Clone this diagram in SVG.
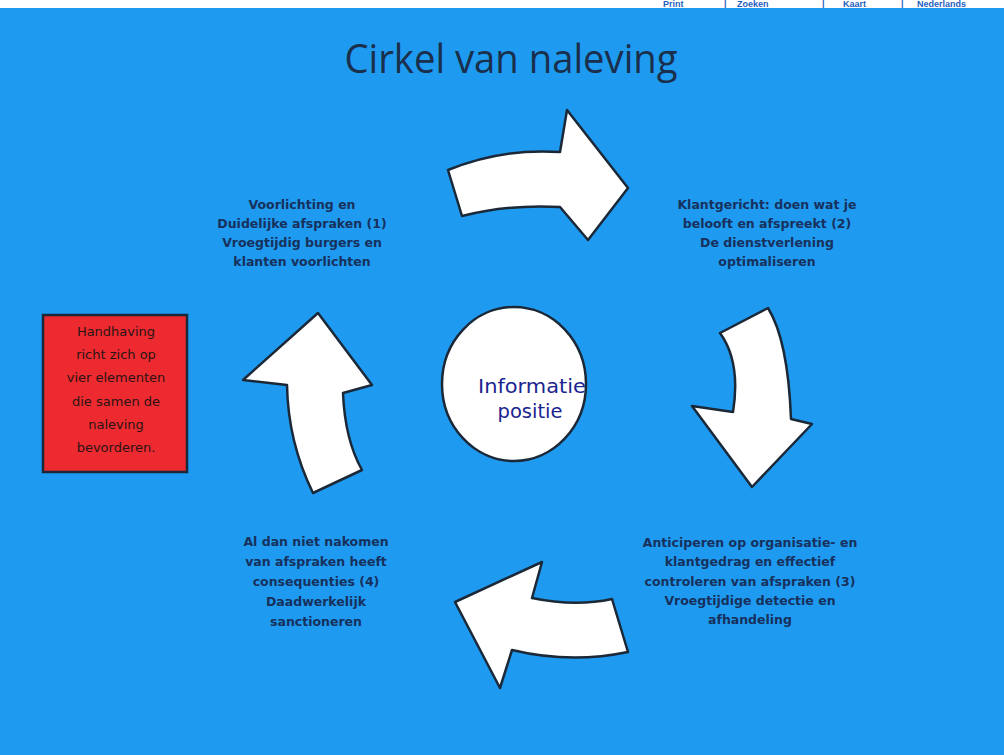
<svg xmlns="http://www.w3.org/2000/svg" width="1004" height="755" viewBox="0 0 1004 755">
<style>
.arrow{fill:#ffffff;stroke:#1b2838;stroke-width:2.5;stroke-linejoin:round}
.lbl{font-family:"DejaVu Sans",Verdana,sans-serif;font-size:12.5px;font-weight:bold;fill:#17305c;text-anchor:middle}
.red{font-family:"DejaVu Sans",Verdana,sans-serif;font-size:13px;fill:#2a1414;text-anchor:middle}
</style>
<rect x="0" y="0" width="1004" height="755" fill="#ffffff"/>
<text y="7" font-family="Liberation Sans, Arial, sans-serif" font-size="9" font-weight="bold" fill="#1f5fc0"><tspan x="663">Print</tspan><tspan x="724">|</tspan><tspan x="737">Zoeken</tspan><tspan x="822">|</tspan><tspan x="843">Kaart</tspan><tspan x="901">|</tspan><tspan x="917">Nederlands</tspan></text>
<rect x="0" y="8" width="1004" height="747" fill="#1e9bf0"/>
<text x="511" y="73" font-family="Open Sans, DejaVu Sans, sans-serif" font-size="40" fill="#1a2f4c" text-anchor="middle" textLength="333" lengthAdjust="spacingAndGlyphs">Cirkel van naleving</text>

<g id="connectors">
<path id="arrow-top" class="arrow" d="M448,170 Q502,148 560,152 L567,110 L628,188 L588,240 L560,207 Q510,204 462,216 Z"/>
<path id="arrow-right" class="arrow" d="M720,333 L768,308 Q788,340 791,419 L812,424 L752,487 L692,406 L733,412 Q741,362 720,333 Z"/>
<path id="arrow-bottom" class="arrow" d="M542,562 L532,598 Q575,607 612,599 L628,652 Q570,664 512,650 L500,688 L455,602 Z"/>
<path id="arrow-left" class="arrow" d="M318,313 L372,385 L343,393 Q345,440 362,470 L313,493 Q288,442 287,385 L243,380 Z"/>
</g>

<g id="node-center">
<ellipse cx="514" cy="384" rx="72" ry="77" fill="#ffffff" stroke="#1b2838" stroke-width="2.5"/>
<text x="532" y="393" font-family="DejaVu Sans, Verdana, sans-serif" font-size="20" fill="#1a2590" text-anchor="middle" textLength="108" lengthAdjust="spacingAndGlyphs">Informatie</text>
<text x="530" y="418" font-family="DejaVu Sans, Verdana, sans-serif" font-size="20" fill="#1a2590" text-anchor="middle" textLength="65" lengthAdjust="spacingAndGlyphs">positie</text>
</g>

<g id="node-1">
<text class="lbl" x="302" y="209">Voorlichting en</text>
<text class="lbl" x="302" y="228">Duidelijke afspraken (1)</text>
<text class="lbl" x="302" y="247">Vroegtijdig burgers en</text>
<text class="lbl" x="302" y="266">klanten voorlichten</text>
</g>

<g id="node-2">
<text class="lbl" x="767" y="209">Klantgericht: doen wat je</text>
<text class="lbl" x="767" y="228">belooft en afspreekt (2)</text>
<text class="lbl" x="767" y="247">De dienstverlening</text>
<text class="lbl" x="767" y="266">optimaliseren</text>
</g>

<g id="node-3">
<text class="lbl" x="750" y="547">Anticiperen op organisatie- en</text>
<text class="lbl" x="750" y="566">klantgedrag en effectief</text>
<text class="lbl" x="750" y="586">controleren van afspraken (3)</text>
<text class="lbl" x="750" y="605">Vroegtijdige detectie en</text>
<text class="lbl" x="750" y="624">afhandeling</text>
</g>

<g id="node-4">
<text class="lbl" x="316" y="546">Al dan niet nakomen</text>
<text class="lbl" x="316" y="566">van afspraken heeft</text>
<text class="lbl" x="316" y="586">consequenties (4)</text>
<text class="lbl" x="316" y="606">Daadwerkelijk</text>
<text class="lbl" x="316" y="626">sanctioneren</text>
</g>

<g id="node-red">
<rect x="43" y="315" width="144" height="157" fill="#ec2a30" stroke="#1b2838" stroke-width="2.5"/>
<text class="red" x="116" y="336">Handhaving</text>
<text class="red" x="116" y="359">richt zich op</text>
<text class="red" x="116" y="382">vier elementen</text>
<text class="red" x="116" y="406">die samen de</text>
<text class="red" x="116" y="429">naleving</text>
<text class="red" x="116" y="452">bevorderen.</text>
</g>
</svg>
